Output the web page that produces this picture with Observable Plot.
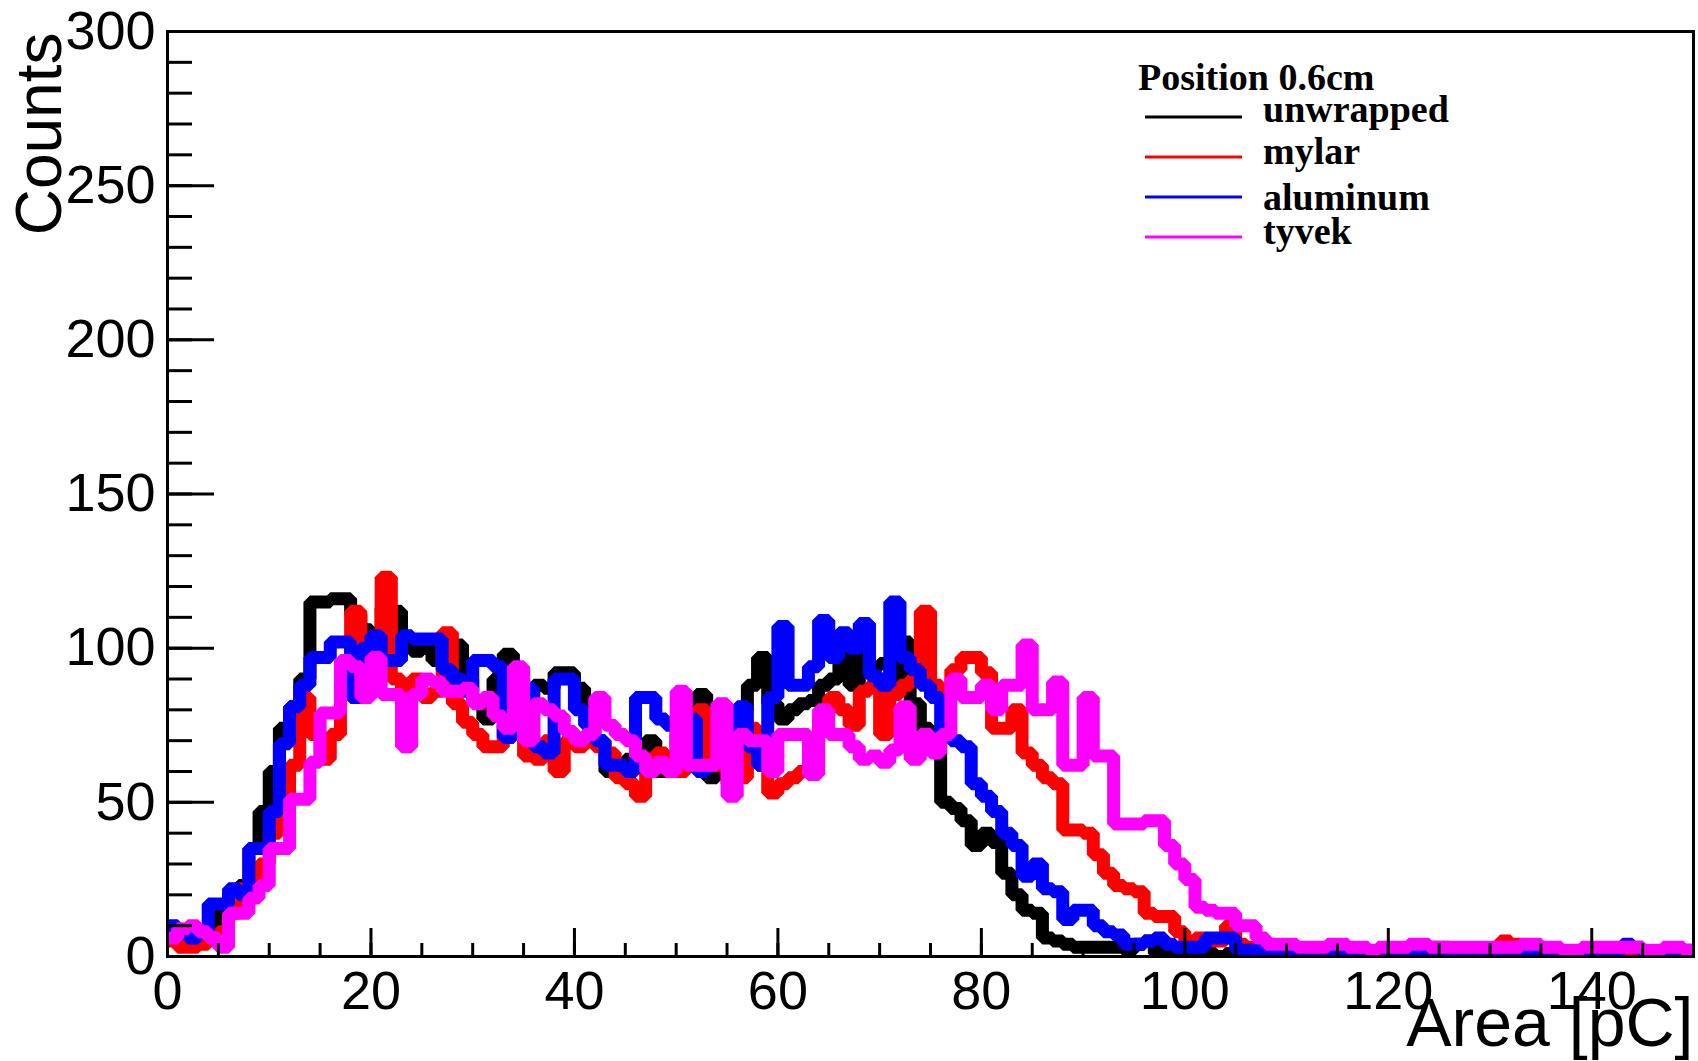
<!DOCTYPE html>
<html>
<head>
<meta charset="utf-8">
<script src="https://cdn.jsdelivr.net/npm/d3@7"></script>
<script src="https://cdn.jsdelivr.net/npm/@observablehq/plot@0.6"></script>
<style>
  html, body { margin: 0; padding: 0; background: white; }
  svg { display: block; }
</style>
</head>
<body>
<div id="chart"></div>
<script>
// ---- data (counts per 1 pC bin, 0..150 pC) ----
const unwrapped = [
  7,6,4,5,9,14,20,23,35,47,
  60,74,81,90,115,115,116,116,111,106,
  103,113,112,101,99,100,96,100,101,90,
  83,77,90,98,92,85,88,87,92,92,
  87,80,70,60,60,64,66,70,60,60,
  72,80,85,58,70,62,80,88,97,82,
  77,80,82,83,88,90,99,88,102,94,
  95,90,102,82,74,70,50,48,44,36,
  40,37,27,20,15,14,6,5,4,3,
  3,3,3,3,2,4,5,1,1,1,
  1,0,1,0,1,1,0,1,0,0,
  1,0,1,0,0,1,0,0,1,0,
  0,1,0,0,1,0,0,0,1,0,
  0,1,0,1,0,0,0,1,0,0,
  1,0,0,1,0,0,1,0,0,1
];
const mylar = [
  5,3,3,4,6,8,14,22,25,30,
  40,52,62,84,72,64,72,88,112,96,
  92,123,90,86,90,84,86,105,82,76,
  72,68,68,75,78,65,64,70,60,70,
  68,72,68,66,58,56,52,62,66,64,
  60,70,80,65,62,56,58,74,62,53,
  56,58,60,59,78,84,80,75,86,88,
  72,85,88,90,112,88,86,93,97,97,
  92,74,74,80,66,62,58,56,41,41,
  40,33,27,23,22,21,14,13,13,8,
  5,6,5,5,10,4,3,2,1,2,
  1,1,1,2,1,1,1,0,1,1,
  1,1,2,1,3,3,2,1,1,2,
  2,5,4,1,1,2,1,1,0,1,
  1,2,1,1,0,1,1,0,1,1
];
const aluminum = [
  10,8,6,8,17,17,22,20,35,35,
  47,69,81,88,97,97,102,102,84,100,
  104,96,96,104,103,103,103,93,90,86,
  96,96,94,71,90,87,68,66,90,90,
  80,75,70,62,62,60,84,84,77,75,
  68,77,60,62,64,70,81,68,62,84,
  107,88,88,94,109,97,105,100,108,91,
  88,115,97,93,88,84,72,70,68,56,
  52,47,40,36,26,30,22,21,12,15,
  15,10,8,7,4,4,5,6,4,3,
  3,3,6,6,6,2,2,2,1,1,
  1,0,1,1,0,1,0,1,1,0,
  1,1,0,1,2,1,1,0,1,1,
  1,2,1,0,1,1,0,1,1,0,
  1,1,2,4,3,1,1,0,1,2
];
const tyvek = [
  6,9,10,8,6,3,14,14,19,23,
  35,35,51,51,63,79,79,96,94,84,
  97,85,85,68,85,90,89,86,86,87,
  82,84,78,74,94,70,82,80,78,73,
  70,72,84,75,72,70,65,60,63,60,
  86,62,62,62,82,52,72,70,70,60,
  72,72,72,59,80,72,72,68,64,65,
  63,67,81,64,72,66,72,90,84,84,
  88,80,88,88,101,80,80,89,62,62,
  84,65,65,43,43,43,44,44,36,30,
  25,16,15,14,14,10,10,6,4,4,
  4,3,3,3,4,4,3,3,2,3,
  3,3,4,4,3,3,3,3,3,3,
  3,3,3,4,4,3,3,2,2,3,
  3,3,3,3,3,2,2,3,3,2
];
const seriesNames = ["unwrapped", "mylar", "aluminum", "tyvek"];
const seriesColors = ["#000000", "#ff0000", "#0000ff", "#ff00ff"];
const seriesValues = [unwrapped, mylar, aluminum, tyvek];
const legendTitle = "Position 0.6cm";
const xMajorTicks = [0, 20, 40, 60, 80, 100, 120, 140];
const yMajorTicks = [0, 50, 100, 150, 200, 250, 300];
const xLabel = "Area [pC]";
const yLabel = "Counts";

// ---- layout ----
const W = 1698, H = 1061;
const mL = 167, mR = 5, mT = 31, mB = 105;
const fw = W - mL - mR, fh = H - mT - mB;
const binWidth = 1;

function steps(vals) {
  const pts = vals.map((v, i) => ({x: i * binWidth, y: v}));
  pts.push({x: vals.length * binWidth, y: vals[vals.length - 1]});
  return pts;
}

const xMinor = d3.range(0, 151, 5);
const yMinor = d3.range(0, 301, 10);

const lineMarks = seriesValues.map((vals, i) =>
  Plot.line(steps(vals), {
    x: "x", y: "y", curve: "step-after",
    stroke: seriesColors[i], strokeWidth: 13,
    strokeLinejoin: "miter", strokeLinecap: "butt", clip: "frame"
  })
);

const chart = Plot.plot({
  width: W, height: H,
  marginLeft: mL, marginRight: mR, marginTop: mT, marginBottom: mB,
  x: {domain: [0, 150]},
  y: {domain: [0, 300]},
  style: {fontFamily: "'Liberation Sans', Arial, Helvetica, sans-serif", background: "white", color: "black"},
  marks: [
    ...lineMarks,
    Plot.frame({stroke: "black", strokeWidth: 3}),
    Plot.tickY(yMinor, {y: d => d, insetRight: fw - 25, stroke: "black", strokeWidth: 3}),
    Plot.tickY(yMajorTicks, {y: d => d, insetRight: fw - 47, stroke: "black", strokeWidth: 3}),
    Plot.tickX(xMinor, {x: d => d, insetTop: fh - 13, stroke: "black", strokeWidth: 3}),
    Plot.tickX(xMajorTicks, {x: d => d, insetTop: fh - 28, stroke: "black", strokeWidth: 3}),
    Plot.axisY({ticks: yMajorTicks, tickSize: 0, tickPadding: 12, fontSize: 54, label: null, tickFormat: d => String(d)}),
    Plot.axisX({ticks: xMajorTicks, tickSize: 0, tickPadding: 14, fontSize: 54, label: null, tickFormat: d => String(d)}),
    Plot.text([xLabel], {text: d => d, frameAnchor: "bottom-right", textAnchor: "end", lineAnchor: "middle", dy: 68, fontSize: 68}),
    Plot.text([yLabel], {text: d => d, frameAnchor: "top-left", textAnchor: "end", lineAnchor: "middle", rotate: -90, dx: -127, dy: 1, fontSize: 64})
  ]
});

document.getElementById("chart").appendChild(chart);

// ---- legend (drawn inside the SVG, top right) ----
const svg = d3.select(chart);
const lg = svg.append("g")
  .attr("font-family", "'Liberation Serif', 'Times New Roman', serif")
  .attr("font-weight", "bold").attr("font-size", 38)
  .attr("fill", "black").attr("text-anchor", "start");
lg.append("text").attr("x", 1138).attr("y", 90).text(legendTitle);
const lineY = [117, 157, 197, 237];
const textY = [122, 164, 210, 244];
seriesNames.forEach((name, i) => {
  lg.append("line").attr("x1", 1145).attr("x2", 1242).attr("y1", lineY[i]).attr("y2", lineY[i])
    .attr("stroke", seriesColors[i]).attr("stroke-width", 3);
  lg.append("text").attr("x", 1263).attr("y", textY[i]).text(name);
});
</script>
</body>
</html>
